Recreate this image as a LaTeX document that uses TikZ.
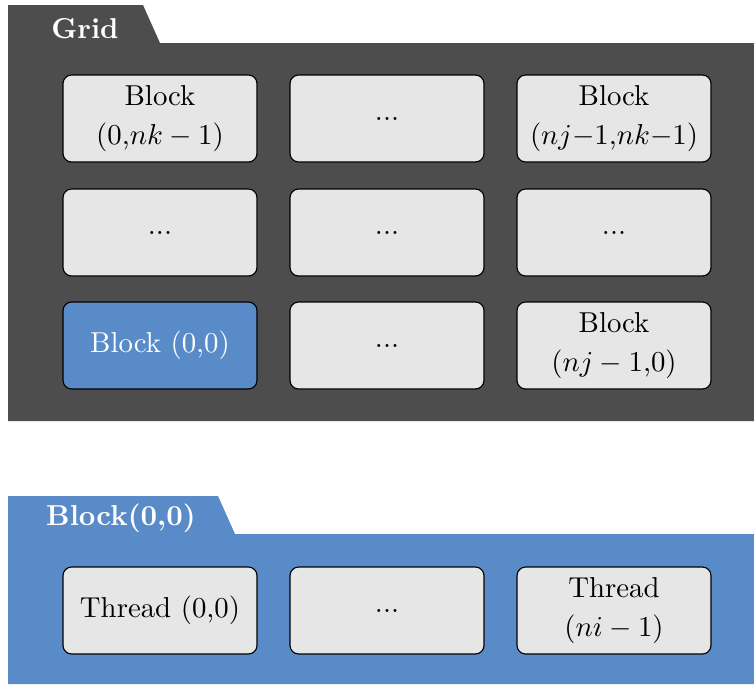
\documentclass[tikz,border=0pt]{standalone}
\usetikzlibrary{positioning}
\definecolor{griddark}{RGB}{77,77,77}
\definecolor{blockblue}{RGB}{89,139,201}
\definecolor{cellgray}{RGB}{230,230,230}
\begin{document}
\begin{tikzpicture}[x=0.3472pt,y=-0.3472pt,
  cell/.style={draw=black, line width=0.4pt, fill=cellgray, rounded corners=3pt,
    minimum width=194*0.3472pt, minimum height=87*0.3472pt, align=center, inner sep=0pt},
  bluecell/.style={cell, fill=blockblue, text=white},
  tablabel/.style={text=white, font=\bfseries, inner sep=0pt}]
\useasboundingbox (0,0) rectangle (754,684);
% Grid panel
\fill[griddark] (8,5) -- (143,5) -- (160,43) -- (754,43) -- (754,421) -- (8,421) -- cycle;
\node[tablabel] (gridlabel) at (85,29) {Grid};
% Block panel
\fill[blockblue] (8,496) -- (218,496) -- (235,534) -- (754,534) -- (754,684) -- (8,684) -- cycle;
\node[tablabel] (blocklabel) at (121,518) {Block(0,0)};
% grid cells
\node[cell] (b13) at (160,118.5) {Block\\[1.3pt](0,$nk-1$)};
\node[cell] (b23) at (387,118.5) {...};
\node[cell] (b33) at (614,118.5) {Block\\[1.3pt]($nj{-}1$,$nk{-}1$)};
\node[cell] (b12) at (160,232.5) {...};
\node[cell] (b22) at (387,232.5) {...};
\node[cell] (b32) at (614,232.5) {...};
\node[bluecell] (b11) at (160,345.5) {Block (0,0)};
\node[cell] (b21) at (387,345.5) {...};
\node[cell] (b31) at (614,345.5) {Block\\[1.3pt]($nj-1$,0)};
% threads
\node[cell] (t1) at (160,610.5) {Thread (0,0)};
\node[cell] (t2) at (387,610.5) {...};
\node[cell] (t3) at (614,610.5) {Thread\\[1.3pt]($ni-1$)};
\end{tikzpicture}
\end{document}
